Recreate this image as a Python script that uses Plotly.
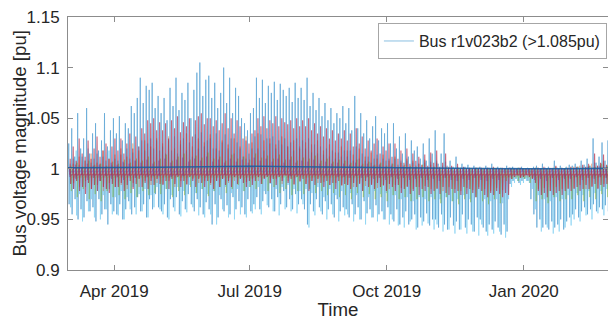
import pandas as pd
import plotly.graph_objects as go

# ---------------- data (voltage deviations from 1 pu, in 0.001 pu) ----------------
start = pd.Timestamp("2019-03-01")
x_end = pd.Timestamp("2020-02-26 12:00")

x_tick_dates = ["2019-04-01", "2019-07-01", "2019-10-01", "2020-01-01"]
x_tick_labels = ["Apr 2019", "Jul 2019", "Oct 2019", "Jan 2020"]
y_tick_vals = [0.9, 0.95, 1.0, 1.05, 1.1, 1.15]
y_tick_labels = ["0.9", "0.95", "1", "1.05", "1.1", "1.15"]

legend_name = "Bus r1v023b2 (>1.085pu)"
x_title = "Time"
y_title = "Bus voltage magnitude [pu]"

# bus r1v023b2 (blue), one value every 2 days: daily peak above 1 pu / evening dip below 1 pu
blue_peak = [25, 40, 12, 55, 20, 30, 60, 15, 35, 45, 18, 28, 55, 22, 38, 50,
             35, 52, 28, 45, 40, 62, 55, 70, 90, 65, 82, 78, 85, 60, 72,
             55, 70, 48, 80, 62, 90, 58, 75, 68, 85, 50, 78, 95, 105, 72, 88,
             92, 70, 85, 60, 75, 100, 65, 90, 55, 80, 72, 50, 45, 38, 55,
             60, 90, 70, 88, 65, 82, 75, 86, 68, 84, 78, 72, 80, 66, 85, 70,
             80, 68, 90, 62, 75, 58, 70, 52, 65, 48, 60, 45, 55, 50, 62,
             45, 60, 38, 72, 40, 55, 35, 48, 30, 42, 52, 28, 40, 35, 45,
             25, 45, 20, 32, 15, 35, 12, 28, 18, 22, 10, 25, 8, 30, 15,
             38, 5, 15, 35, 3, 8, 2, 12, 0, 5, 2, 4, 0, 3, 1,
             2, 0, 3, 1, 5, 0, 2, 1, 0, 3, 1, 2, 0, 1, 2, 0,
             1, 0, 2, 3, 0, 5, 1, 2, 0, 8, 1, 3, 0, 2, 4,
             3, 5, 2, 8, 4, 10, 3, 30, 6, 12, 26, 8, 28, 15]
blue_dip = [35, 45, 30, 50, 40, 48, 32, 42, 38, 52, 30, 45, 40, 55, 35, 42,
            45, 35, 50, 40, 32, 45, 38, 28, 42, 35, 48, 30, 40, 25, 38,
            42, 35, 48, 30, 38, 28, 45, 32, 40, 25, 35, 42, 30, 38, 45, 33,
            40, 55, 35, 48, 30, 42, 36, 45, 28, 40, 32, 38, 45, 30, 42,
            35, 28, 40, 32, 25, 38, 30, 42, 28, 35, 22, 38, 30, 40, 25, 35,
            30, 40, 55, 35, 42, 30, 38, 45, 32, 40, 35, 48, 30, 42, 38,
            40, 48, 35, 45, 38, 50, 32, 44, 40, 48, 36, 45, 42, 50, 38,
            45, 52, 40, 55, 48, 42, 55, 50, 45, 58, 48, 52, 44, 56, 50,
            50, 58, 45, 55, 60, 48, 56, 52, 60, 45, 58, 50, 55, 62, 48,
            50, 58, 62, 55, 60, 52, 58, 65, 55, 62, 15, 12, 10, 14, 12, 10,
            12, 30, 45, 58, 50, 58, 55, 60, 52, 58, 55, 50, 60, 52, 48,
            45, 40, 48, 42, 38, 45, 40, 35, 42, 38, 40, 36, 42, 38]

# light-blue bus, every 2 days (offset one day)
cyan_peak = [5, 10, 18, 4, 12, 8, 20, 6, 10, 15, 5, 12, 8, 18, 4, 10,
             8, 14, 6, 20, 10, 16, 8, 22, 28, 18, 25, 30, 20, 28, 18,
             22, 15, 28, 18, 32, 15, 24, 30, 18, 26, 12, 34, 20, 36, 22, 28,
             30, 20, 35, 18, 26, 34, 20, 30, 15, 26, 20, 12, 10, 15, 20,
             32, 20, 34, 18, 30, 25, 32, 20, 28, 24, 30, 22, 26, 18, 30, 22,
             28, 20, 30, 16, 24, 15, 22, 14, 20, 12, 18, 10, 16, 12, 18,
             12, 18, 8, 22, 10, 15, 8, 12, 6, 10, 14, 5, 10, 8, 10,
             5, 10, 4, 8, 2, 8, 2, 6, 3, 5, 1, 6, 1, 7, 2,
             8, 1, 3, 7, 0, 1, 0, 2, 0, 1, 0, 0, 0, 0, 0,
             0, 0, 1, 0, 1, 0, 0, 0, 0, 1, 0, 0, 0, 0, 0, 0,
             0, 0, 0, 1, 0, 1, 0, 0, 0, 2, 0, 1, 0, 0, 1,
             0, 1, 0, 2, 1, 2, 0, 6, 1, 3, 5, 1, 6, 3]
cyan_dip = [38, 20, 46, 25, 52, 18, 42, 30, 48, 22, 50, 26, 40, 20, 45, 28,
            46, 22, 50, 28, 40, 18, 45, 25, 42, 20, 48, 26, 38, 18, 40,
            45, 20, 50, 26, 42, 18, 47, 22, 43, 16, 38, 24, 46, 20, 48, 25,
            45, 22, 55, 26, 40, 18, 48, 24, 50, 20, 45, 22, 48, 18, 44,
            40, 18, 45, 22, 36, 15, 42, 20, 46, 18, 40, 16, 42, 20, 44, 22,
            35, 20, 58, 24, 46, 18, 42, 28, 50, 20, 45, 26, 52, 22, 46,
            45, 24, 52, 26, 50, 22, 55, 28, 48, 22, 52, 25, 50, 24, 55,
            50, 26, 56, 30, 58, 28, 52, 32, 60, 28, 56, 30, 54, 28, 60,
            55, 30, 62, 28, 60, 32, 64, 30, 60, 26, 64, 30, 62, 28, 66,
            55, 30, 66, 32, 64, 30, 62, 34, 68, 30, 18, 14, 12, 16, 14, 12,
            14, 20, 40, 26, 62, 30, 58, 32, 64, 28, 62, 30, 58, 26, 56,
            50, 24, 52, 26, 46, 22, 50, 24, 44, 22, 46, 20, 44, 22]

# red bus, every 2 days (offset one day)
red_peak = [10, 22, 8, 30, 15, 12, 28, 10, 20, 32, 12, 18, 25, 10, 22, 30,
            18, 30, 15, 25, 35, 20, 32, 22, 40, 35, 48, 45, 50, 38, 46,
            38, 45, 30, 48, 40, 52, 36, 46, 42, 50, 32, 48, 52, 55, 44, 50,
            50, 42, 48, 38, 45, 55, 40, 50, 35, 48, 42, 30, 28, 25, 35,
            38, 50, 42, 52, 40, 48, 45, 52, 42, 50, 46, 44, 48, 40, 50, 42,
            48, 42, 50, 38, 45, 35, 42, 32, 40, 30, 38, 28, 35, 30, 38,
            28, 35, 22, 40, 25, 32, 20, 28, 18, 25, 30, 15, 22, 18, 25,
            12, 25, 10, 18, 6, 20, 5, 15, 8, 12, 4, 14, 3, 16, 6,
            18, 2, 6, 15, 1, 3, 0, 5, 0, 2, 0, 1, 0, 1, 0,
            1, 0, 1, 0, 2, 0, 0, 1, 0, 1, 0, 0, 0, 1, 0, 0,
            0, 0, 1, 1, 0, 2, 0, 1, 0, 3, 0, 1, 0, 1, 2,
            1, 2, 0, 4, 2, 5, 1, 15, 3, 6, 14, 4, 16, 8]
red_dip = [15, 20, 12, 22, 18, 25, 14, 20, 16, 22, 12, 18, 20, 24, 15, 18,
           18, 14, 22, 16, 12, 20, 15, 10, 18, 14, 20, 12, 16, 10, 15,
           16, 12, 20, 10, 15, 8, 18, 12, 15, 8, 12, 18, 10, 14, 18, 12,
           14, 20, 12, 18, 10, 16, 12, 18, 8, 15, 10, 14, 18, 12, 16,
           12, 8, 15, 10, 8, 14, 10, 16, 8, 12, 6, 14, 10, 15, 8, 12,
           10, 15, 22, 12, 16, 10, 14, 18, 12, 16, 14, 20, 12, 16, 15,
           16, 20, 14, 18, 15, 22, 12, 18, 16, 20, 14, 18, 16, 22, 15,
           18, 22, 16, 24, 20, 18, 25, 22, 18, 26, 20, 22, 18, 25, 22,
           20, 25, 18, 24, 26, 20, 24, 22, 26, 18, 25, 20, 24, 28, 20,
           22, 26, 28, 24, 26, 22, 25, 28, 24, 26, 10, 8, 6, 9, 8, 6,
           8, 10, 14, 22, 26, 24, 28, 22, 26, 24, 22, 26, 22, 20, 22,
           20, 18, 22, 20, 16, 20, 18, 15, 20, 16, 18, 15, 20, 16]

# green, orange and purple buses, one value every 4 days
green_peak = [3, 6, 2, 8, 4, 5, 3, 7, 5, 9, 6, 10, 8, 12, 7,
              10, 14, 8, 12, 15, 9, 13, 11, 16, 10, 12, 8, 14, 10, 12, 9,
              15, 11, 13, 10, 14, 9, 12, 8, 11, 10, 13, 8, 10, 7, 9,
              8, 6, 9, 5, 7, 4, 6, 3, 5, 2, 4, 3, 2, 4, 1,
              2, 0, 1, 0, 1, 0, 0, 1, 0, 0, 1, 0, 0, 0, 1, 0, 0, 1, 0, 0, 1, 0, 1,
              1, 2, 1, 3, 2, 5, 3, 6]
green_dip = [22, 28, 20, 30, 25, 32, 22, 28, 26, 30, 24, 28, 22, 26, 24,
             25, 20, 28, 22, 26, 18, 24, 20, 27, 22, 18, 24, 20, 16, 22, 18,
             20, 15, 22, 18, 24, 20, 26, 22, 25, 20, 24, 22, 26, 24, 28,
             26, 30, 24, 28, 25, 30, 28, 32, 26, 30, 28, 32, 30, 28, 32,
             30, 34, 28, 32, 35, 30, 33, 28, 32, 35, 30, 34, 12, 10, 12, 10, 14, 32, 30, 34, 28, 32, 30,
             30, 26, 32, 28, 30, 25, 28, 26]
orange_peak = [5, 12, 8, 15, 6, 18, 10, 14, 20, 12, 25, 18, 28, 22, 30,
               25, 32, 20, 28, 35, 22, 30, 26, 34, 20, 28, 24, 30, 22, 32, 26,
               35, 28, 30, 24, 32, 22, 28, 20, 26, 24, 28, 18, 24, 16, 22,
               18, 14, 20, 12, 16, 10, 14, 8, 12, 6, 10, 8, 5, 9, 4,
               6, 1, 2, 0, 1, 0, 0, 1, 0, 0, 1, 0, 0, 0, 1, 0, 0, 1, 0, 0, 2, 0, 1,
               2, 3, 1, 5, 3, 8, 4, 10]
orange_dip = [14, 18, 12, 20, 16, 22, 14, 18, 16, 20, 14, 18, 12, 16, 14,
              15, 12, 18, 12, 16, 10, 14, 12, 16, 12, 10, 14, 12, 9, 13, 10,
              12, 9, 14, 10, 15, 12, 16, 13, 15, 12, 14, 13, 16, 14, 17,
              16, 18, 14, 17, 15, 19, 17, 20, 16, 19, 17, 20, 18, 17, 20,
              19, 22, 18, 20, 22, 19, 21, 18, 20, 22, 19, 21, 8, 6, 8, 6, 9, 20, 19, 22, 18, 20, 19,
              19, 16, 20, 17, 19, 15, 18, 16]
purple_peak = [2, 4, 1, 5, 3, 4, 2, 6, 4, 7, 5, 8, 6, 9, 5,
               8, 10, 6, 9, 11, 7, 10, 8, 12, 7, 9, 6, 10, 7, 9, 6,
               11, 8, 10, 7, 10, 6, 9, 6, 8, 7, 9, 5, 7, 5, 6,
               5, 4, 6, 3, 5, 3, 4, 2, 3, 1, 3, 2, 1, 2, 1,
               1, 0, 0, 0, 0, 0, 0, 0, 0, 0, 0, 0, 0, 0, 0, 0, 0, 0, 0, 0, 1, 0, 0,
               0, 1, 0, 2, 1, 3, 1, 4]
purple_dip = [8, 10, 6, 11, 9, 12, 7, 10, 8, 11, 7, 9, 6, 8, 7,
              7, 5, 8, 6, 7, 4, 6, 5, 7, 5, 4, 6, 5, 4, 6, 4,
              5, 3, 6, 4, 6, 5, 7, 5, 6, 5, 6, 5, 7, 6, 8,
              8, 9, 7, 9, 8, 10, 9, 11, 8, 10, 9, 11, 10, 9, 11,
              10, 12, 9, 11, 12, 10, 11, 9, 11, 12, 10, 11, 4, 3, 4, 3, 4, 11, 10, 12, 9, 11, 10,
              10, 8, 11, 9, 10, 8, 9, 8]

# night-time (no-load / no-PV) level of each bus, pu
night_level = {"blue": 1.0, "cyan": 0.998, "red": 0.994, "green": 0.992,
               "orange": 0.995, "purple": 0.997}

# slack-side reference bus (dark blue), monthly values
ref_dates = ["2019-03-01", "2019-04-01", "2019-05-01", "2019-06-01", "2019-07-01",
             "2019-08-01", "2019-09-01", "2019-10-01", "2019-11-01", "2019-12-01",
             "2020-01-01", "2020-02-01", "2020-03-01"]
ref_level = [1.001, 1.001, 1.0015, 1.002, 1.0025, 1.002, 1.0015, 1.001,
             1.0005, 1.0, 1.0, 1.0, 1.0005]


# ---------------- build daily profiles ----------------
def profile(peaks, dips, night, step, offset):
    days, vals = [], []
    for i, (p, d) in enumerate(zip(peaks, dips)):
        t0 = step * i + offset
        days += [t0 + 0.3, t0 + 0.5, t0 + 0.75, t0 + 1.0]
        vals += [night, 1 + p / 1000.0, 1 - d / 1000.0, night]
    return start + pd.to_timedelta(days, unit="D"), vals


series = [
    ("cyan", cyan_peak, cyan_dip, 2, 1.0, "#4DBEEE", 0.65, 0.75, False),
    ("blue", blue_peak, blue_dip, 2, 0.0, "#0072BD", 0.62, 0.75, True),
    ("green", green_peak, green_dip, 4, 1.5, "#77AC30", 0.6, 0.8, False),
    ("orange", orange_peak, orange_dip, 4, 3.0, "#D95319", 0.45, 0.8, False),
    ("red", red_peak, red_dip, 2, 1.0, "#B01E3C", 0.68, 1.1, False),
    ("purple", purple_peak, purple_dip, 4, 0.5, "#7E2F8E", 0.5, 0.8, False),
]

fig = go.Figure()
for key, pk, dp, step, off, col, op, lw, show in series:
    xs, ys = profile(pk, dp, night_level[key], step, off)
    fig.add_trace(go.Scatter(
        x=xs, y=ys, mode="lines",
        line=dict(color=col, width=lw),
        opacity=op,
        name=legend_name if show else key,
        showlegend=show, hoverinfo="skip"))

fig.add_trace(go.Scatter(x=pd.to_datetime(ref_dates), y=ref_level, mode="lines",
                         line=dict(color="#1F5FA0", width=1.6), opacity=0.9,
                         showlegend=False, hoverinfo="skip"))

axis_col = "#8C8C8C"
font_family = "Liberation Sans, Arial, sans-serif"

fig.update_layout(
    width=608, height=320,
    margin=dict(l=68, r=0, t=17, b=50),
    plot_bgcolor="white", paper_bgcolor="white",
    font=dict(family=font_family, size=17, color="#262626"),
    legend=dict(x=0.998, y=0.976, xanchor="right", yanchor="top",
                bgcolor="white", bordercolor="#A6A6A6", borderwidth=1,
                font=dict(size=16, color="#262626"), itemwidth=30,
                tracegroupgap=0),
    annotations=[dict(text=y_title, textangle=-90, xref="paper", yref="paper",
                      x=-49 / 540, y=0.5, xanchor="center", yanchor="middle",
                      showarrow=False, font=dict(size=18.7, color="#262626"))],
)
fig.update_xaxes(
    type="date", range=[start, x_end],
    tickmode="array", tickvals=pd.to_datetime(x_tick_dates), ticktext=x_tick_labels,
    ticks="inside", ticklen=5, tickcolor=axis_col, tickwidth=1,
    showline=True, linecolor=axis_col, linewidth=1, mirror="ticks",
    showgrid=False, zeroline=False, ticklabelstandoff=6,
    title=dict(text=x_title, font=dict(size=18.7), standoff=2),
)
fig.update_yaxes(
    range=[0.9, 1.15], tickmode="array", tickvals=y_tick_vals, ticktext=y_tick_labels,
    ticks="inside", ticklen=5, tickcolor=axis_col, tickwidth=1,
    showline=True, linecolor=axis_col, linewidth=1, mirror="ticks",
    showgrid=False, zeroline=False, ticklabelstandoff=4,
)

fig.write_html("out.html", config={"displayModeBar": False},
               post_script="document.body.style.margin='0';document.body.style.padding='0';")
